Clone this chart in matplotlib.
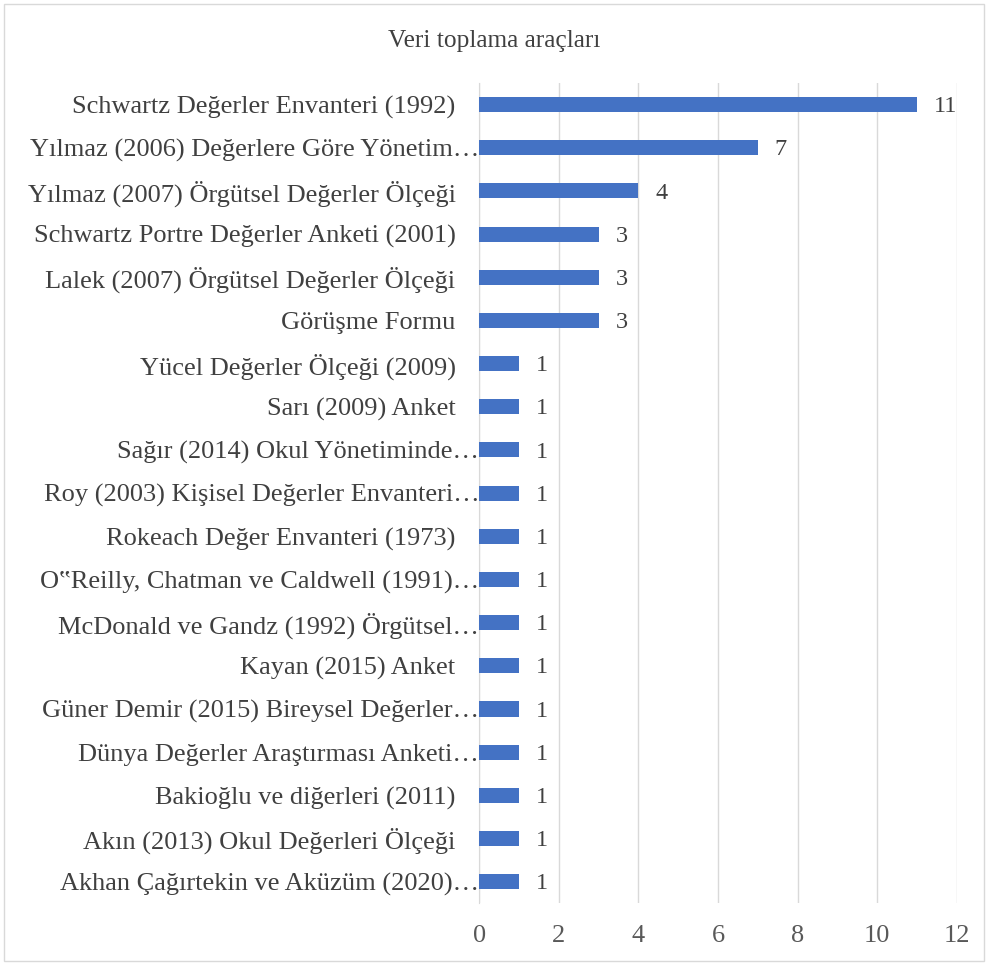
from matplotlib import pyplot as plt
from matplotlib.patches import Rectangle

labels = [
    "Schwartz Değerler Envanteri (1992)",
    "Yılmaz (2006) Değerlere Göre Yönetim…",
    "Yılmaz (2007) Örgütsel Değerler Ölçeği",
    "Schwartz Portre Değerler Anketi (2001)",
    "Lalek (2007) Örgütsel Değerler Ölçeği",
    "Görüşme Formu",
    "Yücel Değerler Ölçeği (2009)",
    "Sarı (2009) Anket",
    "Sağır (2014) Okul Yönetiminde…",
    "Roy (2003) Kişisel Değerler Envanteri…",
    "Rokeach Değer Envanteri (1973)",
    "O‟Reilly, Chatman ve Caldwell (1991)…",
    "McDonald ve Gandz (1992) Örgütsel…",
    "Kayan (2015) Anket",
    "Güner Demir (2015) Bireysel Değerler…",
    "Dünya Değerler Araştırması Anketi…",
    "Bakioğlu ve diğerleri (2011)",
    "Akın (2013) Okul Değerleri Ölçeği",
    "Akhan Çağırtekin ve Aküzüm (2020)…",
]
counts = [11, 7, 4, 3, 3, 3, 1, 1, 1, 1, 1, 1, 1, 1, 1, 1, 1, 1, 1]
xticks = [0, 2, 4, 6, 8, 10, 12]


def main():
    plt.rcParams['font.family'] = ['Liberation Serif', 'DejaVu Serif']
    fig = plt.figure(figsize=(9.88, 9.65), dpi=100)
    ax = fig.add_axes([0.485, 0.064, 0.4835, 0.85])

    pos = list(range(len(labels)))
    ax.barh(pos, counts, height=0.35, color='#4472C4', zorder=3)
    for y, v in zip(pos, counts):
        ax.text(v + 0.42, y + 0.05, str(v), va='center', ha='left',
                fontsize=17.5, color='#404040')

    ax.set_yticks(pos)
    ax.set_yticklabels(labels, fontsize=19, color='#404040')
    ax.set_ylim(len(labels) - 0.5, -0.5)
    ax.set_xlim(0, 12)
    ax.set_xticks(xticks)
    ax.set_xticklabels([str(t) for t in xticks], fontsize=19, color='#595959')
    ax.tick_params(axis='both', length=0)
    ax.tick_params(axis='x', pad=16)
    ax.tick_params(axis='y', pad=17)
    # truncated labels run right up to the axis
    for tick, lab in zip(ax.yaxis.get_major_ticks(), labels):
        if lab.endswith('…'):
            tick.set_pad(0)
    ax.grid(axis='x', color='#D9D9D9', linewidth=1, zorder=0)
    for s in ['top', 'right', 'bottom']:
        ax.spines[s].set_visible(False)
    ax.spines['left'].set_color('#D9D9D9')

    fig.text(0.5, 0.958, "Veri toplama araçları", ha='center', va='center',
             fontsize=18.3, color='#404040')
    fig.patches.append(Rectangle((0.004, 0.004), 0.992, 0.992,
                                 transform=fig.transFigure, fill=False,
                                 edgecolor='#D9D9D9', linewidth=1))
    fig.savefig('out.png', dpi=100)


if __name__ == "__main__":
    main()
